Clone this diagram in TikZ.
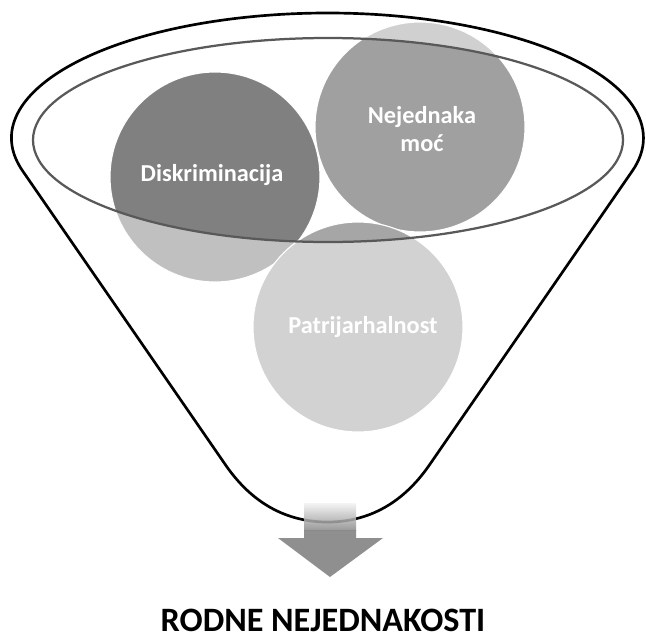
\documentclass[tikz,border=0pt]{standalone}
\usepackage{fontspec}
\setmainfont{Carlito}
\usetikzlibrary{calc}

\definecolor{diskLight}{HTML}{C0C0C0}
\definecolor{diskDark}{HTML}{808080}
\definecolor{mocLight}{HTML}{D0D0D0}
\definecolor{mocDark}{HTML}{A0A0A0}
\definecolor{patriLight}{HTML}{D2D2D2}
\definecolor{patriDark}{HTML}{A6A6A6}
\definecolor{rimgray}{HTML}{595959}
\definecolor{arrowgray}{HTML}{898989}

\begin{document}
\begin{tikzpicture}[x=0.025cm, y=0.025cm, line cap=round, line join=round,
  bubble/.style={draw=white, line width=0.8pt},
  bubbletext/.style={text=white, font=\bfseries\fontsize{17.3}{20}\selectfont, align=center},
  funnel/.style={draw=black, line width=1.9pt},
  rim/.style={draw=rimgray, line width=1.6pt}]
% ---------- parameters ----------
\def\bubr{105}       % bubble radius (px)
\def\rimx{295}       % inner rim half width
\def\rimy{102}       % inner rim half height
\useasboundingbox (0,0) rectangle (646,-639);

% ---------- centres ----------
\coordinate (D) at (215,-177);   % Diskriminacija
\coordinate (N) at (420,-127);   % Nejednaka moc
\coordinate (P) at (358,-327);   % Patrijarhalnost
\coordinate (E) at (328,-140);   % inner rim centre

% ---------- bubbles (outside the rim) ----------
\fill[bubble, fill=diskLight] (D) circle [radius=\bubr];
\fill[bubble, fill=mocLight] (N) circle [radius=\bubr];
\fill[bubble, fill=patriLight] (P) circle [radius=\bubr];

% darker where they sit inside the rim
\begin{scope}
  \clip (E) ellipse [x radius=\rimx, y radius=\rimy];
  \fill[bubble, fill=diskDark] (D) circle [radius=\bubr];
  \fill[bubble, fill=mocDark] (N) circle [radius=\bubr];
  \fill[bubble, fill=patriDark] (P) circle [radius=\bubr];
\end{scope}

% ---------- labels ----------
\node[bubbletext] (disk) at (212,-175) {Diskriminacija};
\node[bubbletext] (moc) at (422,-129) {Nejednaka\\moć};
\node[bubbletext] (patri) at (363,-327) {Patrijarhalnost};

% ---------- funnel ----------
\draw[rim] (E) ellipse [x radius=\rimx, y radius=\rimy];
\draw[funnel] (22.7,-171) arc[start angle=195.3, end angle=-15.3, x radius=316, y radius=125]
  -- (429.4,-465) .. controls (407.3,-497) and (375,-522) .. (327.5,-522)
  .. controls (280,-522) and (247.7,-497) .. (225.6,-465) -- cycle;

% ---------- output arrow ----------
\shade[top color=gray!10, bottom color=arrowgray, fill opacity=0.85]
  (304,-503) rectangle (356,-530);
\fill[arrowgray, fill opacity=0.95] (304,-530) -- (356,-530) -- (356,-538) -- (383,-538)
  -- (330,-577) -- (278,-538) -- (304,-538) -- cycle;

\node[font=\bfseries\fontsize{24.3}{28}\selectfont] (result) at (323,-620) {RODNE NEJEDNAKOSTI};
\end{tikzpicture}
\end{document}
